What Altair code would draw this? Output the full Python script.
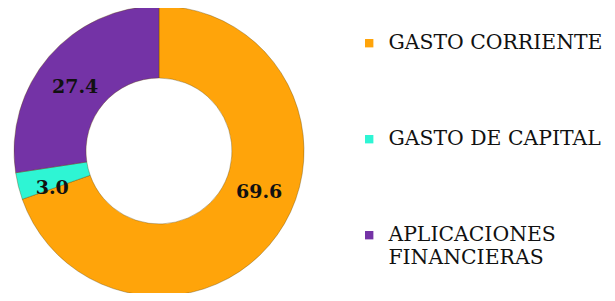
import altair as alt
import pandas as pd

categorias = ["GASTO CORRIENTE", "GASTO DE CAPITAL", "APLICACIONES FINANCIERAS"]
valores = [69.6, 3.0, 27.4]
etiquetas = ["69.6", "3.0", "27.4"]
orden = [1, 2, 3]
colores = ["#FFA40A", "#2EF5D4", "#7433A6"]

df = pd.DataFrame({"categoria": categorias, "valor": valores,
                   "etiqueta": etiquetas, "orden": orden})

total = float(sum(valores))
cx, cy = 151, 143
serif = "DejaVu Serif"

color = alt.Color(
    "categoria:N",
    scale=alt.Scale(domain=categorias, range=colores),
    legend=alt.Legend(
        title=None, orient="none", legendX=351, legendY=25,
        symbolType="square", symbolSize=70, symbolStrokeWidth=0,
        labelFont=serif, labelFontSize=20.4, labelColor="#111111",
        labelOffset=9, rowPadding=75, labelLimit=400,
        labelExpr="datum.label == 'APLICACIONES FINANCIERAS' ? ['APLICACIONES', 'FINANCIERAS'] : datum.label",
    ),
)

theta_scale = alt.Scale(domain=[0, total])

stacked = alt.Chart(df).transform_stack(
    stack="valor", groupby=[], as_=["v0", "v1"],
    sort=[alt.SortField("orden", order="ascending")],
).transform_calculate(mid="(datum.v0 + datum.v1) / 2")

arcs = stacked.mark_arc(outerRadius=145, innerRadius=73, stroke="#5a4000",
                        strokeOpacity=0.35, strokeWidth=1).encode(
    theta=alt.Theta("v0:Q", scale=theta_scale),
    theta2="v1:Q",
    color=color, x=alt.value(cx), y=alt.value(cy)
)

offsets = {"GASTO CORRIENTE": (12, -21), "GASTO DE CAPITAL": (-2, 11),
           "APLICACIONES FINANCIERAS": (-2, 6)}

layers = [arcs]
for cat in categorias:
    dx, dy = offsets[cat]
    t = stacked.transform_filter(alt.datum.categoria == cat).mark_text(
        radius=108, font="DejaVu Serif", fontWeight="bold",
        fontSize=19, color="#111111", align="center",
        baseline="middle", dx=dx, dy=dy).encode(
        theta=alt.Theta("mid:Q", scale=theta_scale),
        text="etiqueta:N", x=alt.value(cx), y=alt.value(cy)
    )
    layers.append(t)

chart = alt.layer(*layers).properties(
    width=599, height=285, autosize="none", padding=0
).configure_view(stroke=None).configure_legend(labelFont=serif)

chart.save("out.html", embed_options={"renderer": "svg", "actions": False})
